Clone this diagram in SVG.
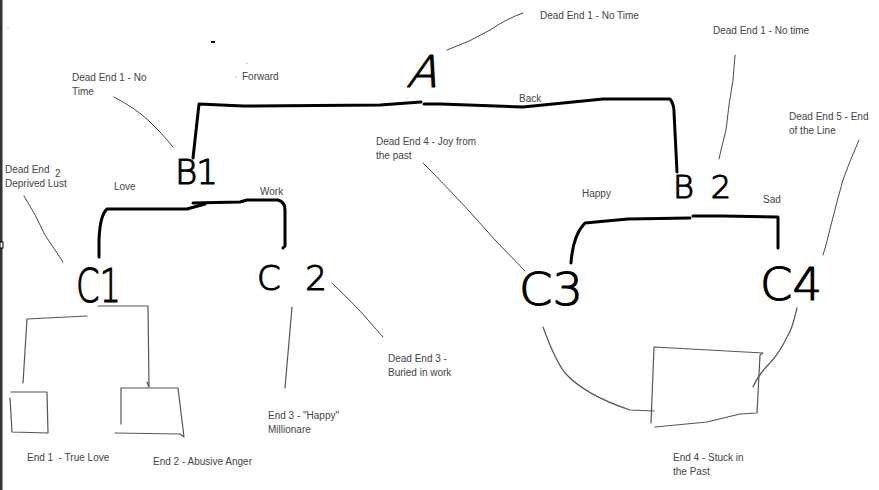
<svg xmlns="http://www.w3.org/2000/svg" width="879" height="490" viewBox="0 0 879 490">
<style>
.lbl{font-family:"Liberation Sans",Arial,sans-serif;font-size:10px;fill:#444}
.hw{font-family:"DejaVu Sans","Liberation Sans",sans-serif;font-weight:200;fill:#000;stroke:#000;stroke-width:1.1;stroke-linejoin:round}
.thick{fill:none;stroke:#000;stroke-width:3;stroke-linecap:round;stroke-linejoin:round}
.thin{fill:none;stroke:#555;stroke-width:1.2;stroke-linecap:round;stroke-linejoin:round}
.lead{fill:none;stroke:#333;stroke-width:0.9;stroke-linecap:round}
</style>
<rect width="879" height="490" fill="#fff"/>
<rect x="0" y="0" width="2.5" height="490" fill="#333"/>
<rect x="0" y="242" width="3" height="6" fill="#fff" stroke="#000" stroke-width="1"/>
<line x1="211" y1="42" x2="215" y2="42" stroke="#000" stroke-width="2"/>
<circle cx="236" cy="77" r="0.6" fill="#666"/>
<circle cx="247" cy="63" r="0.6" fill="#666"/>
<circle cx="8" cy="28" r="0.6" fill="#999"/>

<g id="connectors">
  <path class="thick" d="M193,158 L199,104 L243,106 L380,105 L421,102"/>
  <path class="thick" d="M424,104 L440,104 L523,107 L603,99 L670,99 Q674,104 674,112 L677,172"/>
  <path class="thick" d="M99,257 L99,240 Q100,215 107,209 L187,209 L205,204"/>
  <path class="thick" d="M193,203 L240,202 L247,200 L278,200 Q285,202 285,210 L285,246 L283,248"/>
  <path class="thick" d="M571,263 Q573,235 585,223 L628,219 L690,218"/>
  <path class="thick" d="M693,216 L723,216 L778,217 L778,248"/>
  <path class="thin" d="M87,316 L27,319 L23,383"/>
  <path class="thin" d="M98,306 L148,306 L149,387 L147,382"/>
  <path class="thin" d="M543,327 Q555,360 565,373 Q585,395 630,410 L654,411"/>
  <path class="thin" d="M797,308 Q792,330 787,337 Q780,352 770,363 Q758,375 753,387"/>
  <path class="thin" d="M292,307 L285,388"/>
  <path class="lead" d="M447,50 Q470,42 490,30 Q508,18 523,13"/>
  <path class="lead" d="M735,55 L733,80 L729,105 L726,130 L721,150 L719,159"/>
  <path class="lead" d="M859,140 Q850,160 843,180 L838,198 L831,225 L826,245 L823,255"/>
  <path class="lead" d="M423,163 Q445,185 470,212 L495,240 L525,271"/>
  <path class="lead" d="M114,97 Q135,108 148,120 Q162,133 173,147"/>
  <path class="lead" d="M24,196 Q36,215 45,235 L55,250 L63,262"/>
  <path class="lead" d="M332,283 Q355,305 368,320 L383,337"/>
</g>

<g id="node-A"><text class="hw" transform="translate(406,87) skewX(-18)" x="0" y="0" font-size="44">A</text></g>
<g id="node-B1"><text class="hw" x="175" y="184" font-size="34" textLength="43" lengthAdjust="spacing">B1</text></g>
<g id="node-B2"><text class="hw" x="673" y="198" font-size="32" textLength="58" lengthAdjust="spacing">B2</text></g>
<g id="node-C1"><text class="hw" x="76" y="302" font-size="46" textLength="45" lengthAdjust="spacingAndGlyphs">C1</text></g>
<g id="node-C2"><text class="hw" x="257" y="290" font-size="34" textLength="70" lengthAdjust="spacing">C2</text></g>
<g id="node-C3"><text class="hw" x="519" y="305" font-size="44" textLength="64" lengthAdjust="spacingAndGlyphs">C3</text></g>
<g id="node-C4"><text class="hw" x="760" y="300" font-size="44" textLength="62" lengthAdjust="spacingAndGlyphs">C4</text></g>

<g id="end1">
  <path class="thin" d="M10,398 L12,432 L48,433 L47,392 L11,392"/>
  <text class="lbl" x="27" y="461" xml:space="preserve">End 1  - True Love</text>
</g>
<g id="end2">
  <path class="thin" d="M121,424 L121,388 L178,388 L184,437 L180,434 L115,433"/>
  <text class="lbl" x="153" y="465">End 2 - Abusive Anger</text>
</g>
<g id="end3"><text class="lbl" x="268" y="419">End 3 - "Happy"</text><text class="lbl" x="268" y="433">Millionare</text></g>
<g id="end4">
  <path class="thin" d="M651,423 L654,347 L763,353 L760,355 L757,413 L740,414 L707,422 L655,427"/>
  <text class="lbl" x="673" y="461">End 4 - Stuck in</text><text class="lbl" x="673" y="475">the Past</text>
</g>

<g id="labels">
  <text class="lbl" x="540" y="19">Dead End 1 - No Time</text>
  <text class="lbl" x="713" y="34">Dead End 1 - No time</text>
  <text class="lbl" x="72" y="81">Dead End 1 - No</text>
  <text class="lbl" x="72" y="95">Time</text>
  <text class="lbl" x="242" y="80">Forward</text>
  <text class="lbl" x="519" y="102">Back</text>
  <text class="lbl" x="789" y="120">Dead End 5 - End</text>
  <text class="lbl" x="789" y="134">of the Line</text>
  <text class="lbl" x="376" y="145">Dead End 4 - Joy from</text>
  <text class="lbl" x="376" y="159">the past</text>
  <text class="lbl" x="5" y="173">Dead End</text>
  <text class="lbl" x="55" y="177">2</text>
  <text class="lbl" x="5" y="187">Deprived Lust</text>
  <text class="lbl" x="114" y="190">Love</text>
  <text class="lbl" x="260" y="195">Work</text>
  <text class="lbl" x="582" y="197">Happy</text>
  <text class="lbl" x="763" y="203">Sad</text>
  <text class="lbl" x="388" y="362">Dead End 3 -</text>
  <text class="lbl" x="388" y="376">Buried in work</text>
</g>
</svg>
